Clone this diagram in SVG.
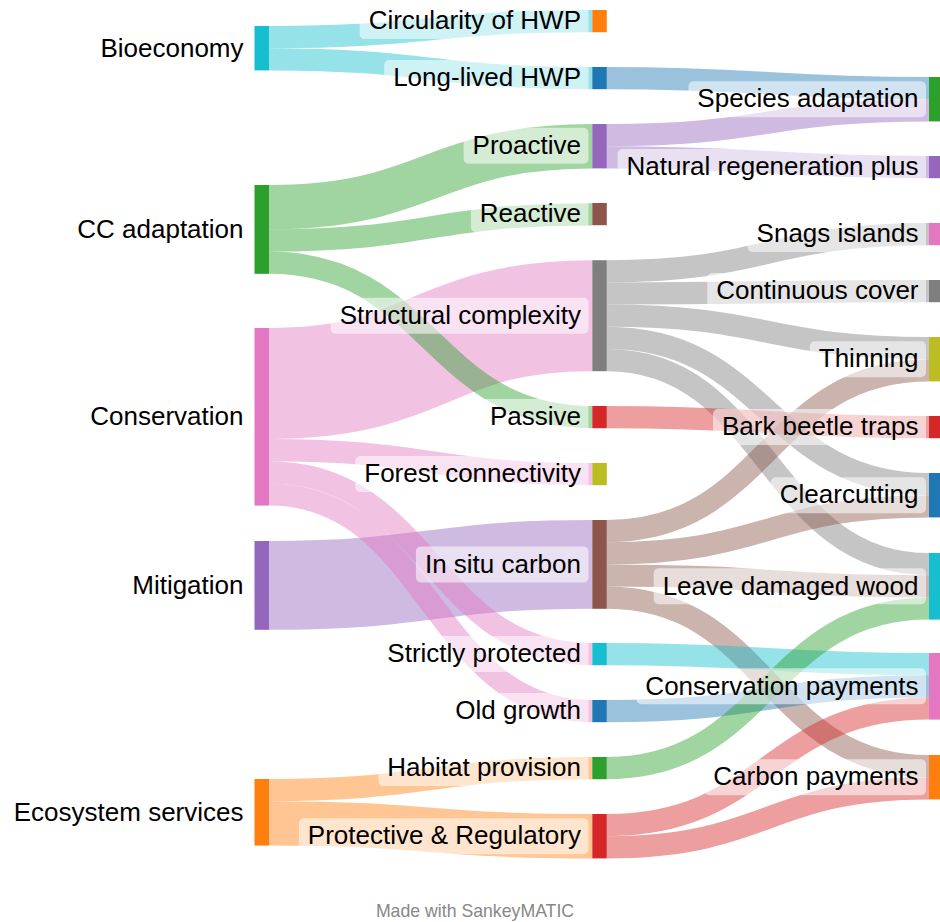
<svg xmlns="http://www.w3.org/2000/svg" width="940" height="922" viewBox="0 0 940 922">
<style>
.lk{fill:none;stroke-opacity:0.45}
.u1{stroke-width:22.2}.u2{stroke-width:44.4}.u4{stroke-width:88.8}.u5{stroke-width:111}
.cy{stroke:#17becf}.gr{stroke:#2ca02c}.pk{stroke:#e377c2}.pu{stroke:#9467bd}.or{stroke:#ff7f0e}
.bl{stroke:#1f77b4}.gy{stroke:#7f7f7f}.rd{stroke:#d62728}.br{stroke:#8c564b}
.bg{fill:#fff;fill-opacity:0.55}
text{font-family:"Liberation Sans",Arial,Helvetica,sans-serif;font-size:26px;fill:#000;text-anchor:end}
.ft{font-size:17.7px;fill:#888;text-anchor:middle}
</style>
<rect width="940" height="922" fill="#fff"/>
<g id="links">
<path class="lk u1 cy" d="M269,37.1C430.6,37.1 430.6,21.1 592.3,21.1"/>
<path class="lk u1 cy" d="M269,59.3C430.6,59.3 430.6,78.1 592.3,78.1"/>
<path class="lk u2 gr" d="M269,207.2C430.6,207.2 430.6,146.2 592.3,146.2"/>
<path class="lk u1 gr" d="M269,240.5C430.6,240.5 430.6,214.3 592.3,214.3"/>
<path class="lk u5 pk" d="M269,383.5C430.6,383.5 430.6,315.7 592.3,315.7"/>
<path class="lk u1 gr" d="M269,262.7C430.6,262.7 430.6,417.1 592.3,417.1"/>
<path class="lk u1 pk" d="M269,450.1C430.6,450.1 430.6,474.1 592.3,474.1"/>
<path class="lk u4 pu" d="M269,585.4C430.6,585.4 430.6,564.4 592.3,564.4"/>
<path class="lk u1 pk" d="M269,472.3C430.6,472.3 430.6,654.1 592.3,654.1"/>
<path class="lk u1 pk" d="M269,494.5C430.6,494.5 430.6,711.1 592.3,711.1"/>
<path class="lk u1 or" d="M269,790.1C430.6,790.1 430.6,768.1 592.3,768.1"/>
<path class="lk u2 or" d="M269,823.4C430.6,823.4 430.6,836.2 592.3,836.2"/>
<path class="lk u1 bl" d="M606.8,78.1C767.9,78.1 767.9,88.1 929,88.1"/>
<path class="lk u1 pu" d="M606.8,135.1C767.9,135.1 767.9,110.3 929,110.3"/>
<path class="lk u1 pu" d="M606.8,157.3C767.9,157.3 767.9,167.1 929,167.1"/>
<path class="lk u1 gy" d="M606.8,271.3C767.9,271.3 767.9,234.1 929,234.1"/>
<path class="lk u1 gy" d="M606.8,293.5C767.9,293.5 767.9,291.1 929,291.1"/>
<path class="lk u1 gy" d="M606.8,315.7C767.9,315.7 767.9,348.1 929,348.1"/>
<path class="lk u1 gy" d="M606.8,337.9C767.9,337.9 767.9,484.1 929,484.1"/>
<path class="lk u1 gy" d="M606.8,360.1C767.9,360.1 767.9,564.1 929,564.1"/>
<path class="lk u1 rd" d="M606.8,417.1C767.9,417.1 767.9,427.1 929,427.1"/>
<path class="lk u1 br" d="M606.8,531.1C767.9,531.1 767.9,370.3 929,370.3"/>
<path class="lk u1 br" d="M606.8,553.3C767.9,553.3 767.9,506.3 929,506.3"/>
<path class="lk u1 br" d="M606.8,575.5C767.9,575.5 767.9,586.3 929,586.3"/>
<path class="lk u1 br" d="M606.8,597.7C767.9,597.7 767.9,766.1 929,766.1"/>
<path class="lk u1 cy" d="M606.8,654.1C767.9,654.1 767.9,664.1 929,664.1"/>
<path class="lk u1 bl" d="M606.8,711.1C767.9,711.1 767.9,686.3 929,686.3"/>
<path class="lk u1 gr" d="M606.8,768.1C767.9,768.1 767.9,608.5 929,608.5"/>
<path class="lk u1 rd" d="M606.8,825.1C767.9,825.1 767.9,708.5 929,708.5"/>
<path class="lk u1 rd" d="M606.8,847.3C767.9,847.3 767.9,788.3 929,788.3"/>
</g>
<g id="n-bioeconomy"><rect x="254.5" y="26" width="14.5" height="44.4" fill="#17becf"/><text x="243.5" y="56.5">Bioeconomy</text></g>
<g id="n-cc-adaptation"><rect x="254.5" y="185" width="14.5" height="88.8" fill="#2ca02c"/><text x="243.5" y="237.6">CC adaptation</text></g>
<g id="n-conservation"><rect x="254.5" y="328" width="14.5" height="177.6" fill="#e377c2"/><text x="243.5" y="425">Conservation</text></g>
<g id="n-mitigation"><rect x="254.5" y="541" width="14.5" height="88.8" fill="#9467bd"/><text x="243.5" y="593.6">Mitigation</text></g>
<g id="n-ecosystem-services"><rect x="254.5" y="779" width="14.5" height="66.6" fill="#ff7f0e"/><text x="243.5" y="820.5">Ecosystem services</text></g>

<g id="n-circularity"><rect x="592.3" y="10" width="14.5" height="22.2" fill="#ff7f0e"/><rect class="bg" x="359.7" y="3.1" width="228.8" height="36" rx="5"/><text x="581" y="29.3">Circularity of HWP</text></g>
<g id="n-long-lived"><rect x="592.3" y="67" width="14.5" height="22.2" fill="#1f77b4"/><rect class="bg" x="384.2" y="60.1" width="204.3" height="36" rx="5"/><text x="581" y="86.3">Long-lived HWP</text></g>
<g id="n-proactive"><rect x="592.3" y="124" width="14.5" height="44.4" fill="#9467bd"/><rect class="bg" x="463.6" y="127.7" width="124.9" height="36" rx="5"/><text x="581" y="154">Proactive</text></g>
<g id="n-reactive"><rect x="592.3" y="203" width="14.5" height="22.2" fill="#8c564b"/><rect class="bg" x="470.9" y="196.1" width="117.6" height="36" rx="5"/><text x="581" y="222">Reactive</text></g>
<g id="n-structural"><rect x="592.3" y="260.2" width="14.5" height="111" fill="#7f7f7f"/><rect class="bg" x="330.7" y="297.7" width="257.8" height="36" rx="5"/><text x="581" y="323.9">Structural complexity</text></g>
<g id="n-passive"><rect x="592.3" y="406" width="14.5" height="22.2" fill="#d62728"/><rect class="bg" x="481" y="399.1" width="107.5" height="36" rx="5"/><text x="581" y="425.3">Passive</text></g>
<g id="n-forest-connectivity"><rect x="592.3" y="463" width="14.5" height="22.2" fill="#bcbd22"/><rect class="bg" x="355.3" y="456.1" width="233.2" height="36" rx="5"/><text x="581" y="482.3">Forest connectivity</text></g>
<g id="n-in-situ-carbon"><rect x="592.3" y="520" width="14.5" height="88.8" fill="#8c564b"/><rect class="bg" x="415.9" y="546.4" width="172.6" height="36" rx="5"/><text x="581" y="572.6">In situ carbon</text></g>
<g id="n-strictly-protected"><rect x="592.3" y="643" width="14.5" height="22.2" fill="#17becf"/><rect class="bg" x="378.4" y="636.1" width="210.1" height="36" rx="5"/><text x="581" y="662.3">Strictly protected</text></g>
<g id="n-old-growth"><rect x="592.3" y="700" width="14.5" height="22.2" fill="#1f77b4"/><rect class="bg" x="446.3" y="693.1" width="142.2" height="36" rx="5"/><text x="581" y="719.3">Old growth</text></g>
<g id="n-habitat-provision"><rect x="592.3" y="757" width="14.5" height="22.2" fill="#2ca02c"/><rect class="bg" x="378.4" y="750.1" width="210.1" height="36" rx="5"/><text x="581" y="776.3">Habitat provision</text></g>
<g id="n-protective-regulatory"><rect x="592.3" y="814" width="14.5" height="44.4" fill="#d62728"/><rect class="bg" x="298.9" y="818.2" width="289.6" height="36" rx="5"/><text x="581" y="844.4">Protective &amp; Regulatory</text></g>

<g id="n-species-adaptation"><rect x="929" y="77" width="14.5" height="44.4" fill="#2ca02c"/><rect class="bg" x="688.4" y="81.2" width="237.6" height="36" rx="5"/><text x="918.5" y="107.4">Species adaptation</text></g>
<g id="n-natural-regeneration"><rect x="929" y="156" width="14.5" height="22.2" fill="#9467bd"/><rect class="bg" x="617.6" y="149.1" width="308.4" height="36" rx="5"/><text x="918.5" y="175.3">Natural regeneration plus</text></g>
<g id="n-snags-islands"><rect x="929" y="223" width="14.5" height="22.2" fill="#e377c2"/><rect class="bg" x="747.6" y="216.1" width="178.4" height="36" rx="5"/><text x="918.5" y="242.3">Snags islands</text></g>
<g id="n-continuous-cover"><rect x="929" y="280" width="14.5" height="22.2" fill="#7f7f7f"/><rect class="bg" x="707.2" y="273.1" width="218.8" height="36" rx="5"/><text x="918.5" y="299.3">Continuous cover</text></g>
<g id="n-thinning"><rect x="929" y="337" width="14.5" height="44.4" fill="#bcbd22"/><rect class="bg" x="809.8" y="341.2" width="116.2" height="36" rx="5"/><text x="918.5" y="367.4">Thinning</text></g>
<g id="n-bark-beetle"><rect x="929" y="416" width="14.5" height="22.2" fill="#d62728"/><rect class="bg" x="713" y="409.1" width="213" height="36" rx="5"/><text x="918.5" y="435.3">Bark beetle traps</text></g>
<g id="n-clearcutting"><rect x="929" y="473" width="14.5" height="44.4" fill="#1f77b4"/><rect class="bg" x="770.8" y="477.2" width="155.2" height="36" rx="5"/><text x="918.5" y="503.4">Clearcutting</text></g>
<g id="n-leave-damaged"><rect x="929" y="553" width="14.5" height="66.6" fill="#17becf"/><rect class="bg" x="653.7" y="568.3" width="272.3" height="36" rx="5"/><text x="918.5" y="594.5">Leave damaged wood</text></g>
<g id="n-conservation-payments"><rect x="929" y="653" width="14.5" height="66.6" fill="#e377c2"/><rect class="bg" x="636.4" y="668.3" width="289.6" height="36" rx="5"/><text x="918.5" y="694.5">Conservation payments</text></g>
<g id="n-carbon-payments"><rect x="929" y="755" width="14.5" height="44.4" fill="#ff7f0e"/><rect class="bg" x="704.3" y="759.2" width="221.7" height="36" rx="5"/><text x="918.5" y="785.4">Carbon payments</text></g>

<text class="ft" x="475" y="916.5">Made with SankeyMATIC</text>
</svg>
